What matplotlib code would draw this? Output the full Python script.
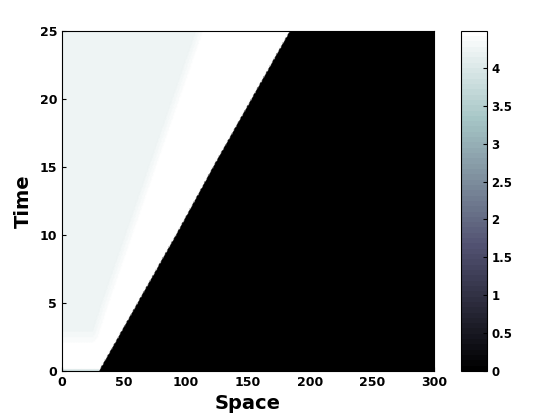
import numpy as np
import matplotlib
matplotlib.use("Agg")
import matplotlib.pyplot as plt

# Valores
front_time = [0, 5, 10, 15, 20, 25]
front_pos = [30, 61, 92, 122, 153, 184]        # borde del frente negro
edge_time = [0, 3, 5, 10, 15, 20, 25]
edge_pos = [32, 33, 40, 59, 78, 97, 116]       # borde derecho de la meseta gris
peak_value = 4.49       # banda blanca detras del frente
plateau_value = 4.27    # meseta gris a la izquierda
initial_value = 3.9     # fila inicial t=0
plateau_onset = [1.8, 3.0]   # tiempo en que aparece la meseta

space = np.linspace(0, 300, 601)
time = np.linspace(0, 25, 251)
X, T = np.meshgrid(space, time)

# construir el campo a partir de los bordes leidos
frente = np.interp(T, front_time, front_pos)
borde = np.interp(T, edge_time, edge_pos)
U = np.where(X <= frente, peak_value, 0.0)
rampa_x = np.clip((borde - X) / 8.0, 0, 1)
rampa_t = np.clip((T - plateau_onset[0]) / (plateau_onset[1] - plateau_onset[0]), 0, 1)
mezcla = rampa_x * rampa_t
U = np.where(X <= frente, peak_value - mezcla * (peak_value - plateau_value), U)
U[0, :] = np.where(space <= front_pos[0], initial_value, 0.0)
U[1, :] = np.where(space <= front_pos[0], initial_value, U[1, :])

fig = plt.figure(figsize=(5.6, 4.2), dpi=100)
ax = fig.add_axes([0.1107, 0.1167, 0.664, 0.81])
cax = fig.add_axes([0.823, 0.1167, 0.046, 0.81])

cmap = plt.get_cmap('bone', 64)
malla = ax.pcolormesh(X, T, U, cmap=cmap, shading='gouraud', vmin=0, vmax=peak_value)

ax.set_xlim(0, 300)
ax.set_ylim(0, 25)
ax.set_xticks([0, 50, 100, 150, 200, 250, 300])
ax.set_yticks([0, 5, 10, 15, 20, 25])
ax.tick_params(direction='in', length=3, labelsize=9)
for lab in ax.get_xticklabels() + ax.get_yticklabels():
    lab.set_fontweight('bold')
ax.set_xlabel('Space', fontsize=14, fontweight='bold', labelpad=4)
ax.set_ylabel('Time', fontsize=14, fontweight='bold', labelpad=5)

cb = fig.colorbar(malla, cax=cax, ticks=[0, 0.5, 1, 1.5, 2, 2.5, 3, 3.5, 4])
cb.ax.set_yticklabels(['0', '0.5', '1', '1.5', '2', '2.5', '3', '3.5', '4'])
cb.ax.tick_params(direction='in', length=3, labelsize=8.5)
for lab in cb.ax.get_yticklabels():
    lab.set_fontweight('bold')

fig.savefig('out.png', dpi=100)
